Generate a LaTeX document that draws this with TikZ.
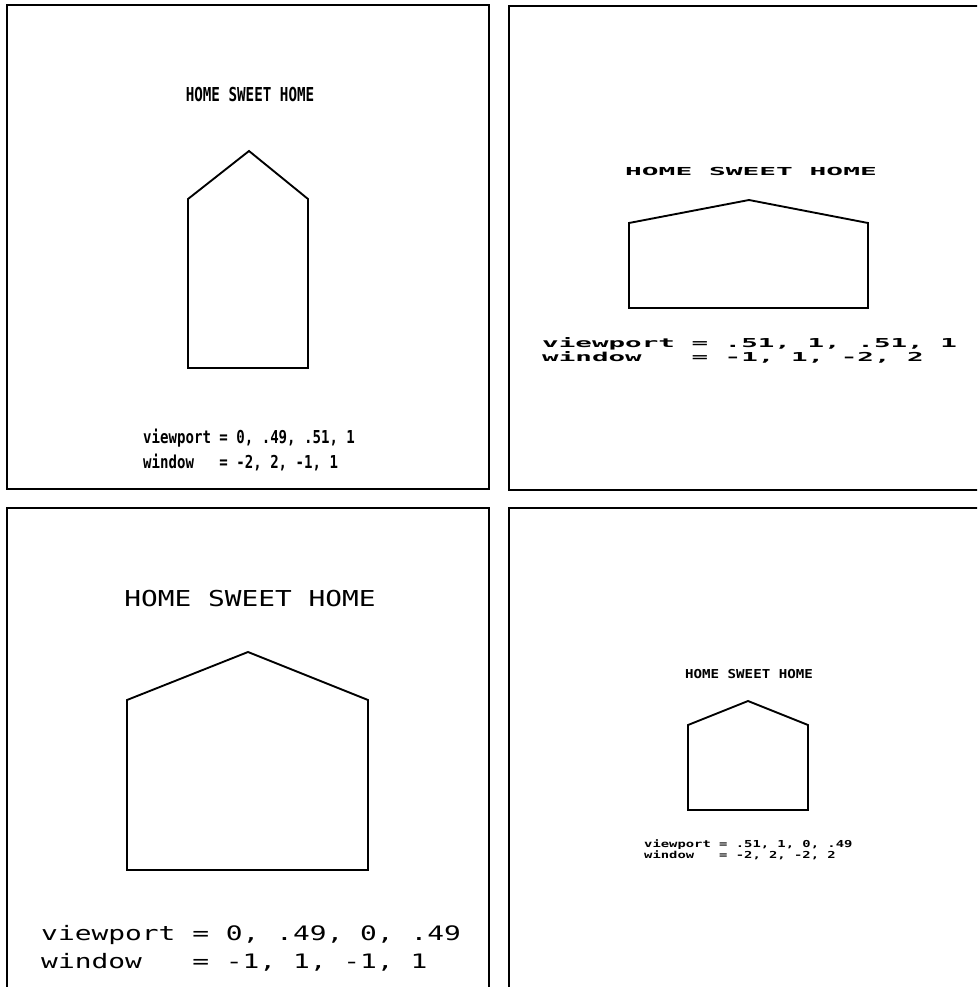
\documentclass[tikz,border=0pt]{standalone}
\usepackage{fontspec}
\newfontfamily\plotfont{DejaVu Sans Mono}
% plotter lettering: horizontal stretch, size
\newcommand\plottext[3]{\scalebox{#1}[1]{\fontsize{#2}{#2}\selectfont\plotfont #3}}

\begin{document}
\begin{tikzpicture}[x=0.03cm,y=-0.03cm,
 panel/.style={line width=2pt},
 house/.style={line width=1.6pt,line join=miter},
 title/.style={inner sep=0pt,anchor=base},
 vlabel/.style={inner sep=0pt,anchor=base west}]
\useasboundingbox (0,0) rectangle (977,987);
\clip (0,0) rectangle (977,987);
% the four viewports
\draw[panel] (7,5) rectangle (489,489);
\draw[panel] (509,6) rectangle (990,490);
\draw[panel] (7,508) rectangle (489,1000);
\draw[panel] (509,508) rectangle (990,1000);
% houses: left/right wall, roof peak, eave, floor
\foreach \l/\r/\px/\t/\e/\b in {188/308/249/151/199/368, 629/868/749/200/223/308,
 127/368/248/652/700/870, 688/808/748/701/725/810}
 \draw[house] (\l,\b) -- (\l,\e) -- (\px,\t) -- (\r,\e) -- (\r,\b) -- cycle;
% top left
\node[title] (tltitle) at (250,102) {\plottext{0.74}{16.4pt}{\bfseries HOME SWEET HOME}};
\node[vlabel] (tlview) at (143,443) {\plottext{0.79}{15.2pt}{\bfseries viewport = 0, .49, .51, 1}};
\node[vlabel] (tlwin) at (143,468) {\plottext{0.79}{15.2pt}{\bfseries window\ \ \ = -2, 2, -1, 1}};
% top right
\node[title] (trtitle) at (751,176) {\plottext{2.53}{9.4pt}{\bfseries HOME SWEET HOME}};
\node[vlabel] (trview) at (542,347) {\plottext{2.24}{10.5pt}{\bfseries viewport = .51, 1, .51, 1}};
\node[vlabel] (trwin) at (542,361) {\plottext{2.24}{10.5pt}{\bfseries window\ \ \ = -1, 1, -2, 2}};
% bottom left
\node[title] (bltitle) at (250,606) {\plottext{1.27}{18.7pt}{HOME SWEET HOME}};
\node[vlabel] (blview) at (41,940) {\plottext{1.40}{17pt}{viewport = 0, .49, 0, .49}};
\node[vlabel] (blwin) at (41,968) {\plottext{1.40}{17pt}{window\ \ \ = -1, 1, -1, 1}};
% bottom right
\node[title] (brtitle) at (749,678) {\plottext{1.15}{10.5pt}{\bfseries HOME SWEET HOME}};
\node[vlabel] (brview) at (644,847) {\plottext{1.44}{8.2pt}{\bfseries viewport = .51, 1, 0, .49}};
\node[vlabel] (brwin) at (644,858) {\plottext{1.44}{8.2pt}{\bfseries window\ \ \ = -2, 2, -2, 2}};
\end{tikzpicture}
\end{document}
